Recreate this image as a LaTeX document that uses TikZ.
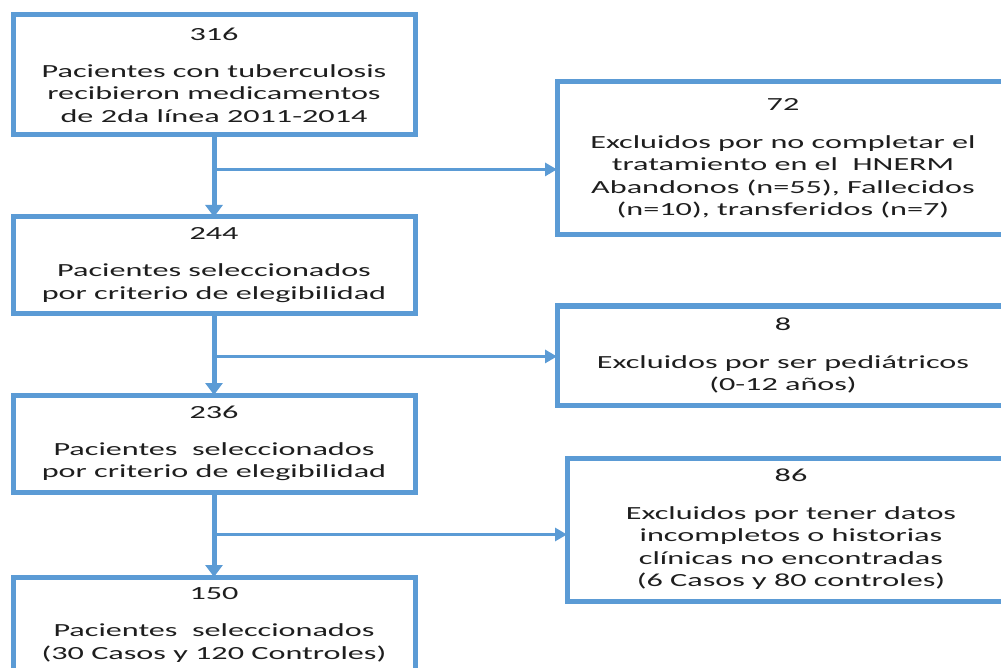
\documentclass[tikz,border=0pt]{standalone}
\usepackage{fontspec}
\setmainfont{Carlito}[FakeStretch=1.74]
\usetikzlibrary{arrows.meta,positioning,calc}
\definecolor{flowblue}{RGB}{91,155,213}
\definecolor{flowtext}{RGB}{30,30,30}

\begin{document}
\begin{tikzpicture}[
    x=1pt, y=1pt,
    node distance=82pt,
    mainbox/.style={rectangle, draw=flowblue, line width=5pt, fill=white, outer sep=0pt,
                 minimum width=402pt, align=center, text=flowtext,
                 font=\fontsize{18.5}{22.5}\selectfont},
    exclbox/.style={mainbox, minimum width=452pt, anchor=north west},
    trunk/.style={-{Triangle[length=12pt,width=17pt]}, line width=5pt, flowblue},
    branch/.style={-{Triangle[length=12pt,width=13pt]}, line width=3pt, flowblue}
]
\path[use as bounding box, clip] (0,0) rectangle (1001,-668);
% main column
\node[mainbox, minimum height=120pt, anchor=north west] (a) at (13,-15)
    {316\\[14.5pt]Pacientes con tuberculosis\\recibieron medicamentos\\de 2da línea 2011-2014};
\node[mainbox, minimum height=96pt, below=of a] (b)
    {244\\[14.5pt]Pacientes seleccionados\\por criterio de elegibilidad};
\node[mainbox, minimum height=97pt, below=of b] (c)
    {236\\[14.5pt]Pacientes\ \ seleccionados\\por criterio de elegibilidad};
\node[mainbox, minimum height=96pt, below=85pt of c] (d)
    {150\\[14.5pt]Pacientes\ \ seleccionados\\(30 Casos y 120 Controles)};
% excluded
\node[exclbox, minimum height=153pt] (r1) at (557,-82)
    {72\\[15pt]Excluidos por no completar el\\tratamiento en el\ \ HNERM\\Abandonos (n=55), Fallecidos\\(n=10), transferidos (n=7)};
\node[exclbox, minimum height=99pt] (r2) at (557,-306)
    {8\\[15pt]Excluidos por ser pediátricos\\(0-12 años)};
\node[exclbox, minimum width=448pt, minimum height=143pt] (r3) at (567,-458)
    {86\\[15pt]Excluidos por tener datos\\incompletos o historias\\clínicas no encontradas\\(6 Casos y 80 controles)};
\coordinate (j1) at ($(a.south)!0.42!(b.north)$);
\coordinate (j2) at ($(b.south)!0.53!(c.north)$);
\coordinate (j3) at ($(c.south)!0.5!(d.north)$);
\draw[trunk] (a) -- (b);
\draw[trunk] (b) -- (c);
\draw[trunk] (c) -- (d);
\draw[branch] (j1) -- (j1 -| r1.west);
\draw[branch] (j2) -- (j2 -| r2.west);
\draw[branch] (j3) -- (j3 -| r3.west);
\end{tikzpicture}
\end{document}
